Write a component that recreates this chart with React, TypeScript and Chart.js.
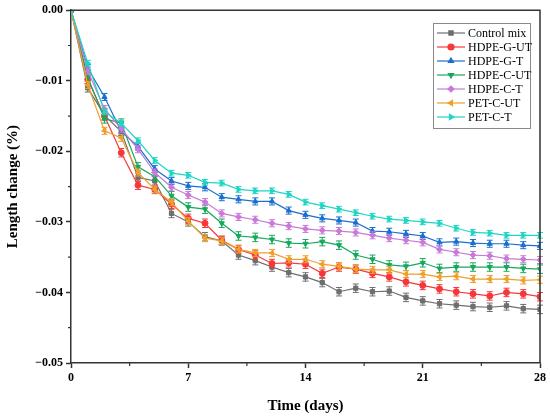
import React, { useEffect, useRef } from "react";
import { Chart, registerables } from "chart.js";
import { drawPoint } from "chart.js/helpers";

Chart.register(...registerables);

const days = [0, 1, 2, 3, 4, 5, 6, 7, 8, 9, 10, 11, 12, 13, 14, 15, 16, 17, 18, 19, 20, 21, 22, 23, 24, 25, 26, 27, 28];

const controlMix = [0, -0.011, -0.0149, -0.0172, -0.0237, -0.0242, -0.0288, -0.03, -0.0321, -0.0327, -0.0347, -0.0355, -0.0364, -0.0372, -0.0378, -0.0386, -0.0399, -0.0394, -0.0399, -0.0398, -0.0407, -0.0412, -0.0416, -0.0418, -0.042, -0.0421, -0.0419, -0.0423, -0.0424];
const hdpeGUT = [0, -0.0098, -0.015, -0.0202, -0.0248, -0.0254, -0.0275, -0.0295, -0.0302, -0.0326, -0.0339, -0.0347, -0.0359, -0.0358, -0.036, -0.0373, -0.0364, -0.0367, -0.0373, -0.0378, -0.0385, -0.039, -0.0395, -0.0399, -0.0402, -0.0405, -0.04, -0.0402, -0.0406];
const hdpeGT = [0, -0.0082, -0.0123, -0.0172, -0.0193, -0.0225, -0.0242, -0.0249, -0.0251, -0.0265, -0.0268, -0.0271, -0.0271, -0.0284, -0.029, -0.0295, -0.0298, -0.0301, -0.0313, -0.0314, -0.0317, -0.032, -0.0329, -0.0328, -0.033, -0.0331, -0.0331, -0.0333, -0.0334];
const hdpeCUT = [0, -0.0095, -0.0154, -0.016, -0.0222, -0.0236, -0.0263, -0.0279, -0.0282, -0.0302, -0.032, -0.0322, -0.0325, -0.033, -0.0331, -0.0328, -0.0333, -0.0347, -0.0353, -0.0361, -0.0363, -0.0358, -0.0366, -0.0364, -0.0364, -0.0364, -0.0364, -0.0366, -0.0367];
const hdpeCT = [0, -0.0086, -0.014, -0.0168, -0.0197, -0.023, -0.0251, -0.0262, -0.0272, -0.0288, -0.0293, -0.0297, -0.0302, -0.0306, -0.031, -0.0312, -0.0313, -0.0315, -0.0319, -0.0323, -0.0326, -0.0329, -0.0339, -0.0343, -0.0347, -0.0348, -0.0352, -0.0353, -0.0354];
const petCUT = [0, -0.0106, -0.0171, -0.0181, -0.023, -0.0254, -0.0272, -0.0299, -0.0323, -0.0327, -0.0339, -0.0344, -0.0344, -0.0353, -0.0353, -0.036, -0.0363, -0.0367, -0.0368, -0.0368, -0.0374, -0.0374, -0.0378, -0.0377, -0.0381, -0.0381, -0.0381, -0.0383, -0.0382];
const petCT = [0, -0.0075, -0.0144, -0.016, -0.0185, -0.0213, -0.0231, -0.0234, -0.0244, -0.0245, -0.0254, -0.0256, -0.0256, -0.0261, -0.0272, -0.0277, -0.0282, -0.0287, -0.0292, -0.0296, -0.0298, -0.03, -0.0302, -0.0309, -0.0315, -0.0316, -0.0319, -0.0319, -0.0319];

const seriesNames = ["Control mix", "HDPE-G-UT", "HDPE-G-T", "HDPE-C-UT", "HDPE-C-T", "PET-C-UT", "PET-C-T"];
const seriesValues = [controlMix, hdpeGUT, hdpeGT, hdpeCUT, hdpeCT, petCUT, petCT];
const seriesErrors = [0.0006, 0.0006, 0.0005, 0.0006, 0.0005, 0.0005, 0.0004];
const seriesColors = ["#6e6e6e", "#f5383b", "#1a6fcf", "#16a85e", "#c97ad9", "#eea02a", "#1fd6c4"];
const seriesStyles = ["rect", "circle", "triangle", "triangle", "rectRot", "triangle", "triangle"];
const seriesRotations = [0, 0, 0, 180, 0, -90, 90];

const xTicks = [0, 7, 14, 21, 28];
const xMinorTicks = [3.5, 10.5, 17.5, 24.5];
const yTicks = [0, -0.01, -0.02, -0.03, -0.04, -0.05];
const yMinorTicks = [-0.005, -0.015, -0.025, -0.035, -0.045];

const FONT = "'Liberation Serif', 'Times New Roman', serif";
const AXIS_COLOR = "#333333";

const errorBarPlugin = {
  id: "errorBars",
  afterDatasetDraw(chart: any, args: any) {
    const idx = args.index;
    const meta = args.meta;
    const err = seriesErrors[idx];
    const ys = chart.scales.y;
    const ctx = chart.ctx;
    ctx.save();
    ctx.strokeStyle = seriesColors[idx];
    ctx.lineWidth = 1;
    const vals = seriesValues[idx];
    meta.data.forEach((pt: any, i: number) => {
      if (i === 0) return;
      const v = vals[i];
      const y1 = ys.getPixelForValue(v + err);
      const y2 = ys.getPixelForValue(v - err);
      const x = pt.x;
      ctx.beginPath();
      ctx.moveTo(x, y1);
      ctx.lineTo(x, y2);
      ctx.moveTo(x - 3, y1);
      ctx.lineTo(x + 3, y1);
      ctx.moveTo(x - 3, y2);
      ctx.lineTo(x + 3, y2);
      ctx.stroke();
    });
    ctx.restore();
  },
};

const framePlugin = {
  id: "frame",
  afterDraw(chart: any) {
    const { ctx, chartArea } = chart;
    const xs = chart.scales.x;
    const ys = chart.scales.y;
    ctx.save();
    ctx.strokeStyle = AXIS_COLOR;
    ctx.lineWidth = 1.5;
    ctx.beginPath();
    ctx.moveTo(chartArea.left, chartArea.top);
    ctx.lineTo(chartArea.right, chartArea.top);
    ctx.lineTo(chartArea.right, chartArea.bottom);
    ctx.stroke();
    // minor ticks
    ctx.lineWidth = 1.2;
    ctx.beginPath();
    xMinorTicks.forEach((t) => {
      const x = xs.getPixelForValue(t);
      ctx.moveTo(x, chartArea.bottom);
      ctx.lineTo(x, chartArea.bottom + 3);
    });
    yMinorTicks.forEach((t) => {
      const y = ys.getPixelForValue(t);
      ctx.moveTo(chartArea.left, y);
      ctx.lineTo(chartArea.left - 3, y);
    });
    ctx.stroke();

    // legend
    const bx = 433, by = 23, bw = 97, bh = 105;
    ctx.strokeStyle = "#8a8a8a";
    ctx.lineWidth = 1;
    ctx.fillStyle = "#ffffff";
    ctx.fillRect(bx, by, bw, bh);
    ctx.strokeRect(bx + 0.5, by + 0.5, bw, bh);
    ctx.font = `12px ${FONT}`;
    ctx.textBaseline = "middle";
    ctx.textAlign = "left";
    seriesNames.forEach((name, i) => {
      const y = by + 10 + i * 14;
      ctx.strokeStyle = seriesColors[i];
      ctx.lineWidth = 1.2;
      ctx.beginPath();
      ctx.moveTo(bx + 4, y);
      ctx.lineTo(bx + 32, y);
      ctx.stroke();
      ctx.fillStyle = seriesColors[i];
      drawPoint(ctx, { pointStyle: seriesStyles[i], rotation: seriesRotations[i], radius: 3, borderWidth: 1 } as any, bx + 18, y);
      ctx.fillStyle = "#000000";
      ctx.fillText(name, bx + 35, y + 0.5);
    });
    ctx.restore();
  },
};

export default function App() {
  const ref = useRef<HTMLCanvasElement | null>(null);
  useEffect(() => {
    if (!ref.current) return;
    const chart = new Chart(ref.current, {
      type: "line",
      data: {
        datasets: seriesNames.map((name, i) => ({
          label: name,
          data: days.map((d, j) => ({ x: d, y: seriesValues[i][j] })),
          borderColor: seriesColors[i],
          backgroundColor: seriesColors[i],
          pointBackgroundColor: seriesColors[i],
          pointBorderColor: seriesColors[i],
          pointStyle: seriesStyles[i] as any,
          rotation: seriesRotations[i],
          pointRadius: 3,
          pointBorderWidth: 1,
          borderWidth: 1.2,
          tension: 0,
          order: 6 - i,
        })),
      },
      options: {
        animation: false,
        responsive: true,
        maintainAspectRatio: false,
        layout: { padding: { left: 0, right: 10, top: 10, bottom: 0 } },
        plugins: { legend: { display: false }, tooltip: { enabled: false } },
        scales: {
          x: {
            type: "linear",
            min: 0,
            max: 28,
            afterBuildTicks: (s: any) => {
              s.ticks = xTicks.map((v) => ({ value: v }));
            },
            afterFit: (s: any) => {
              s.height = 56;
            },
            ticks: {
              color: "#000",
              font: { family: FONT, size: 12, weight: "bold" },
              padding: 3,
              maxRotation: 0,
              callback: (v: any) => String(v),
            },
            grid: { drawOnChartArea: false, drawTicks: true, tickLength: 5, color: AXIS_COLOR, tickWidth: 1.5 },
            border: { display: true, color: AXIS_COLOR, width: 1.5 },
            title: {
              display: true,
              text: "Time (days)",
              color: "#000",
              font: { family: FONT, size: 15, weight: "bold" },
              padding: { top: 4, bottom: 4 },
            },
          },
          y: {
            type: "linear",
            min: -0.05,
            max: 0,
            afterBuildTicks: (s: any) => {
              s.ticks = yTicks.map((v) => ({ value: v }));
            },
            afterFit: (s: any) => {
              s.width = 71;
            },
            ticks: {
              color: "#000",
              font: { family: FONT, size: 12, weight: "bold" },
              padding: 3,
              callback: (v: any) => {
                const n = Number(v);
                if (Math.abs(n) < 1e-9) return "0.00";
                return "\u2212" + Math.abs(n).toFixed(2);
              },
            },
            grid: { drawOnChartArea: false, drawTicks: true, tickLength: 5, color: AXIS_COLOR, tickWidth: 1.5 },
            border: { display: true, color: AXIS_COLOR, width: 1.5 },
            title: {
              display: true,
              text: "Length change (%)",
              color: "#000",
              font: { family: FONT, size: 15, weight: "bold" },
              padding: { top: 4, bottom: 4 },
            },
          },
        },
      },
      plugins: [errorBarPlugin, framePlugin],
    });
    return () => chart.destroy();
  }, []);
  return (
    <div style={{ position: "fixed", left: 0, top: 0, width: 550, height: 419, background: "#fff" }}>
      <canvas ref={ref} />
    </div>
  );
}
